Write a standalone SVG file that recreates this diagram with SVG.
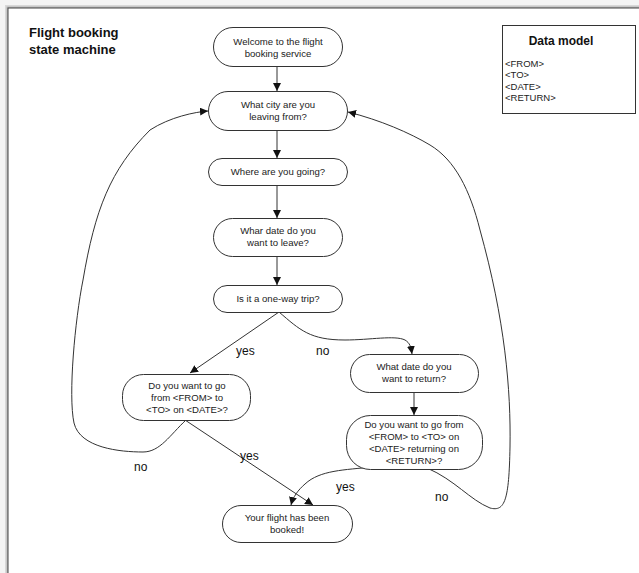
<svg xmlns="http://www.w3.org/2000/svg" width="639" height="573" viewBox="0 0 639 573">
<defs>
<marker id="ah" viewBox="0 0 10 10" refX="10" refY="5" markerWidth="8" markerHeight="8" markerUnits="userSpaceOnUse" orient="auto">
<path d="M0,0 L10,5 L0,10 Z" fill="#111"/>
</marker>
</defs>
<style>
.node{fill:#fff;stroke:#333;stroke-width:1}
.t{font-family:"Liberation Sans",Arial,sans-serif;font-size:9.6px;fill:#222;text-anchor:middle}
.dm{font-family:"Liberation Sans",Arial,sans-serif;font-size:9.5px;fill:#222}
.lbl{font-family:"Liberation Sans",Arial,sans-serif;font-size:12px;fill:#111}
.title{font-family:"Liberation Sans",Arial,sans-serif;font-size:13px;font-weight:bold;fill:#111}
.c{fill:none;stroke:#333;stroke-width:1;marker-end:url(#ah)}
</style>
<rect x="0" y="0" width="639" height="573" fill="#f4f4f4"/>
<rect x="5" y="5" width="640" height="580" fill="#d8d8d8"/>
<rect x="6.5" y="6.5" width="640" height="580" fill="#b8b8b8"/>
<rect x="8" y="8" width="640" height="580" fill="#fff" stroke="#444" stroke-width="1"/>

<g id="title">
<text class="title" x="29" y="37">Flight booking</text>
<text class="title" x="29" y="54">state machine</text>
</g>

<g id="datamodel">
<rect x="502.5" y="25.5" width="133" height="88" fill="#fff" stroke="#333"/>
<text class="title" x="561" y="45" text-anchor="middle" style="font-size:12px">Data model</text>
<text class="dm" x="505" y="67">&lt;FROM&gt;</text>
<text class="dm" x="505" y="78">&lt;TO&gt;</text>
<text class="dm" x="505" y="90">&lt;DATE&gt;</text>
<text class="dm" x="505" y="101">&lt;RETURN&gt;</text>
</g>

<g id="connectors">
<path class="c" d="M277,66 L277,91"/>
<path class="c" d="M277,130 L277,158"/>
<path class="c" d="M277,185 L277,218"/>
<path class="c" d="M277,256 L277,285"/>
<path class="c" d="M279,312 L190,373"/>
<path class="c" d="M279,312 C300,330 310,340 345,340 C370,340 395,335 405,340 C410,343 411,347 412,354"/>
<path class="c" d="M414,392 L414,415"/>
<path class="c" d="M185,420 L313,505"/>
<path class="c" d="M186,420 C170,435 160,452 143,452 C120,452 80,448 74,423 C68,395 75,320 83,280 C95,210 110,170 150,130 C170,117 195,112 208,111"/>
<path class="c" d="M372,467 C345,470 320,470 305,484 C298,490 293,497 291,505"/>
<path class="c" d="M427,468 C455,480 470,500 490,508 C505,512 509,500 510,447 C511,390 505,320 480,230 C470,190 455,160 430,145 C410,133 380,120 348,112"/>
<text class="lbl" x="236" y="355">yes</text>
<text class="lbl" x="316" y="355">no</text>
<text class="lbl" x="240" y="460">yes</text>
<text class="lbl" x="134" y="471">no</text>
<text class="lbl" x="336" y="491">yes</text>
<text class="lbl" x="435" y="501">no</text>
</g>

<g id="n1">
<rect class="node" x="213.5" y="27.5" width="129" height="39" rx="19.5"/>
<text class="t" x="278" y="45">Welcome to the flight</text>
<text class="t" x="278" y="57">booking service</text>
</g>
<g id="n2">
<rect class="node" x="208.5" y="91.5" width="139" height="39" rx="19.5"/>
<text class="t" x="278" y="108">What city are you</text>
<text class="t" x="278" y="120">leaving from?</text>
</g>
<g id="n3">
<rect class="node" x="208.5" y="158.5" width="139" height="27" rx="13.5"/>
<text class="t" x="278" y="175">Where are you going?</text>
</g>
<g id="n4">
<rect class="node" x="213.5" y="218.5" width="129" height="38" rx="19"/>
<text class="t" x="278" y="234">Whar date do you</text>
<text class="t" x="278" y="246">want to leave?</text>
</g>
<g id="n5">
<rect class="node" x="213.5" y="285.5" width="129" height="27" rx="13.5"/>
<text class="t" x="278" y="302">Is it a one-way trip?</text>
</g>
<g id="n6">
<rect class="node" x="122.5" y="374.5" width="128" height="46" rx="21"/>
<text class="t" x="187" y="389">Do you want to go</text>
<text class="t" x="187" y="401">from &lt;FROM&gt; to</text>
<text class="t" x="187" y="413">&lt;TO&gt; on &lt;DATE&gt;?</text>
</g>
<g id="n7">
<rect class="node" x="350.5" y="354.5" width="128" height="38" rx="19"/>
<text class="t" x="414" y="370">What date do you</text>
<text class="t" x="414" y="382">want to return?</text>
</g>
<g id="n8">
<rect class="node" x="346.5" y="415.5" width="136" height="54" rx="24"/>
<text class="t" x="414" y="428">Do you want to go from</text>
<text class="t" x="414" y="440">&lt;FROM&gt; to &lt;TO&gt; on</text>
<text class="t" x="414" y="452">&lt;DATE&gt; returning on</text>
<text class="t" x="414" y="464">&lt;RETURN&gt;?</text>
</g>
<g id="n9">
<rect class="node" x="222.5" y="505.5" width="130" height="37" rx="18.5"/>
<text class="t" x="287" y="521">Your flight has been</text>
<text class="t" x="287" y="533">booked!</text>
</g>
</svg>
